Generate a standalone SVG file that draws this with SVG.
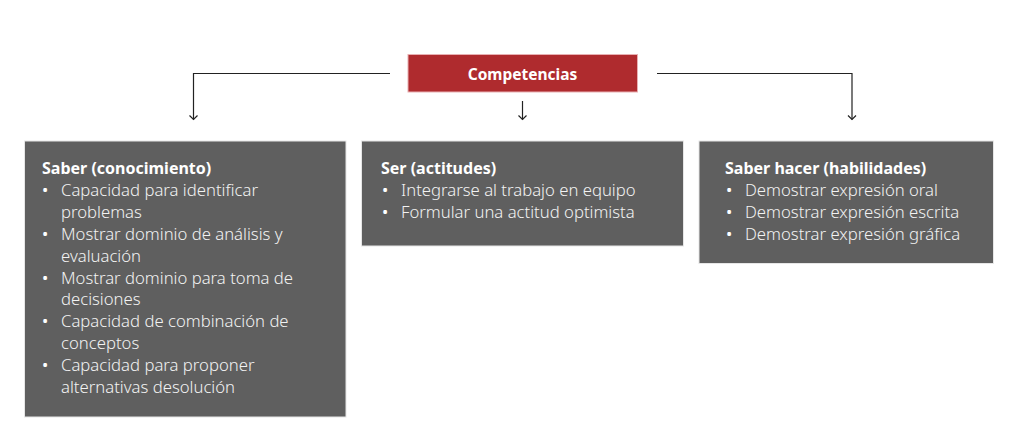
<svg xmlns="http://www.w3.org/2000/svg" width="1015" height="421" viewBox="0 0 1015 421">
<defs>
<marker id="arr" viewBox="0 0 10 10" refX="9" refY="5" markerWidth="10" markerHeight="10" markerUnits="userSpaceOnUse" orient="auto">
<path d="M5,1 L9,5 L5,9" fill="none" stroke="#222" stroke-width="1.2"/>
</marker>
<style>
.box{fill:#5f5f5f;stroke:#e6e6e6;stroke-width:1}
.h{font-family:"Noto Sans","Open Sans",sans-serif;font-size:16px;font-weight:bold;fill:#fff}
.t{font-family:"Noto Sans","Open Sans",sans-serif;font-size:16.7px;font-weight:300;fill:#f2f2f2}
.b{font-weight:normal;fill:#fff}
.ln{fill:none;stroke:#222;stroke-width:1.2}
</style>
</defs>
<rect width="1015" height="421" fill="#fff"/>
<g id="connectors">
<path class="ln" d="M390,73.5 H193.5 V119.5" marker-end="url(#arr)"/>
<path class="ln" d="M522.5,101 V119.5" marker-end="url(#arr)"/>
<path class="ln" d="M657,73.5 H852 V119.5" marker-end="url(#arr)"/>
</g>
<g id="competencias">
<rect x="408" y="54.5" width="229.5" height="37.5" fill="#af2b2e" stroke="#e8b0b2" stroke-width="1"/>
<text x="522.5" y="80" text-anchor="middle" class="h" style="font-size:15.5px">Competencias</text>
</g>
<g id="saber">
<rect class="box" x="24.5" y="141" width="321.5" height="276"/>
<text class="h" x="42" y="174">Saber (conocimiento)</text>
<g class="t">
<text class="b" x="42" y="196">•</text><text x="61" y="196">Capacidad para identificar</text>
<text x="61" y="218">problemas</text>
<text class="b" x="42" y="240">•</text><text x="61" y="240">Mostrar dominio de análisis y</text>
<text x="61" y="261.5">evaluación</text>
<text class="b" x="42" y="283.5">•</text><text x="61" y="283.5">Mostrar dominio para toma de</text>
<text x="61" y="305">decisiones</text>
<text class="b" x="42" y="327">•</text><text x="61" y="327">Capacidad de combinación de</text>
<text x="61" y="349">conceptos</text>
<text class="b" x="42" y="370.5">•</text><text x="61" y="370.5">Capacidad para proponer</text>
<text x="61" y="392.5">alternativas desolución</text>
</g>
</g>
<g id="ser">
<rect class="box" x="361.5" y="141" width="322" height="105"/>
<text class="h" x="381" y="174">Ser (actitudes)</text>
<g class="t">
<text class="b" x="382" y="196">•</text><text x="401" y="196">Integrarse al trabajo en equipo</text>
<text class="b" x="382" y="218">•</text><text x="401" y="218">Formular una actitud optimista</text>
</g>
</g>
<g id="saberhacer">
<rect class="box" x="699" y="141" width="294.5" height="122.5"/>
<text class="h" x="725" y="174">Saber hacer (habilidades)</text>
<g class="t">
<text class="b" x="726" y="196">•</text><text x="745" y="196">Demostrar expresión oral</text>
<text class="b" x="726" y="218">•</text><text x="745" y="218">Demostrar expresión escrita</text>
<text class="b" x="726" y="240">•</text><text x="745" y="240">Demostrar expresión gráfica</text>
</g>
</g>
</svg>
